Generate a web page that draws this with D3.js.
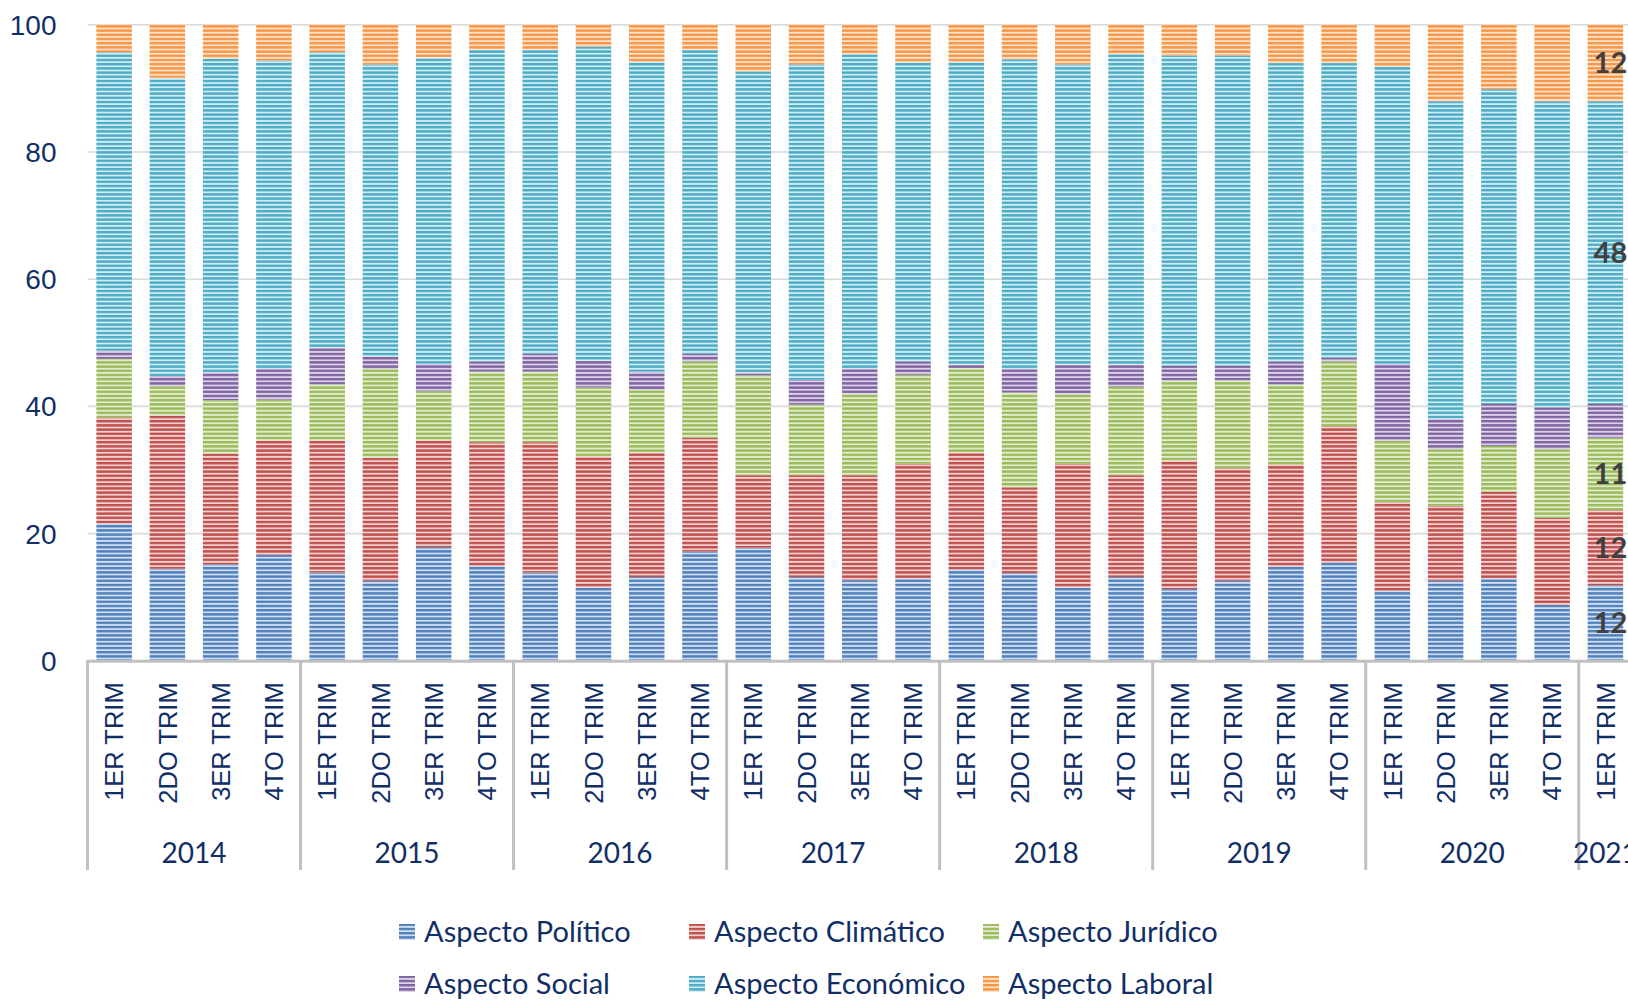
<!DOCTYPE html>
<html>
<head>
<meta charset="utf-8">
<script src="https://cdn.jsdelivr.net/npm/d3@7"></script>
<style>
  body { margin: 0; background: #fff; }
  svg { display: block; font-family: "Lato", "Open Sans", sans-serif; }
</style>
</head>
<body>
<svg id="chart" width="1628" height="1001"></svg>
<script>
// categories
const years = ["2014", "2015", "2016", "2017", "2018", "2019", "2020", "2021"];
const quarters = ["1ER TRIM", "2DO TRIM", "3ER TRIM", "4TO TRIM"];
const nPeriods = 29; // 2014 Q1 .. 2021 Q1

// series (percent of total)
const politico  = [21.5,14.4,15.1,16.6, 13.8,12.5,17.8,14.8, 13.8,11.4,13.1,17.1, 17.7,13.1,12.6,12.9, 14.3,13.7,11.4,13.1, 11.2,12.5,14.7,15.3, 10.9,12.5,12.9,8.7, 11.8];
const climatico = [16.7,24.1,17.4,18.0, 20.8,19.3,16.8,19.5, 20.5,20.7,19.6,17.9, 11.4,16.0,16.5,18.0, 18.4,13.5,19.5,16.0, 20.2,17.7,16.1,21.5, 14.0,11.8,13.6,13.7, 11.8];
const juridico  = [9.2,4.6,8.4,6.4, 8.8,14.0,7.7,11.1, 11.1,10.8,9.8,12.0, 15.7,11.1,12.8,14.0, 13.2,14.9,11.0,13.9, 12.6,13.8,12.6,10.2, 9.6,8.9,7.2,10.8, 11.4];
const social    = [1.3,1.6,4.4,4.8, 5.8,2.0,4.3,1.6, 2.8,4.2,2.9,1.2, 0.5,3.9,4.0,2.1, 0.6,3.7,4.6,3.5, 2.3,2.3,3.6,0.6, 12.1,4.8,6.6,6.6, 5.3];
const economico = [46.9,46.9,49.3,48.5, 46.4,45.9,48.2,49.0, 47.8,49.4,48.7,47.8, 47.3,49.6,49.4,47.0, 47.6,48.7,47.2,48.8, 48.8,48.8,46.9,46.3, 46.8,49.9,49.5,48.1, 47.6];
const laboral   = [4.4,8.4,5.4,5.7, 4.4,6.3,5.2,4.0, 4.0,3.5,5.9,4.0, 7.4,6.3,4.7,6.0, 5.9,5.5,6.3,4.7, 4.9,4.9,6.1,6.1, 6.6,12.1,10.2,12.1, 12.1];

const seriesNames = ["Aspecto Político", "Aspecto Climático", "Aspecto Jurídico", "Aspecto Social", "Aspecto Económico", "Aspecto Laboral"];
const seriesKeys = ["politico", "climatico", "juridico", "social", "economico", "laboral"];
const yTicks = [0, 20, 40, 60, 80, 100];
const labelledSeries = ["politico", "climatico", "juridico", "economico", "laboral"]; // labels on last bar

const colors = ["#4f81bd", "#c0504d", "#9bbb59", "#8064a2", "#4bacc6", "#f79646"];
const lights = ["#d3dff0", "#f2d2d1", "#e3ecd3", "#dcd3e8", "#d3ecf3", "#fde2cb"];

const svg = d3.select("#chart");
const width = +svg.attr("width");
const textColor = "#112f66";

// build table rows
const seriesArr = [politico, climatico, juridico, social, economico, laboral];
const rows = d3.range(nPeriods).map(i => {
  const r = { id: i, year: years[Math.floor(i / 4)], quarter: quarters[i % 4] };
  seriesKeys.forEach((k, j) => r[k] = seriesArr[j][i]);
  return r;
});

const left = 87.5, step = 53.26;
const x = d3.scaleBand()
  .domain(rows.map(d => d.id))
  .range([left, left + step * nPeriods])
  .paddingInner(0.333)
  .paddingOuter(0.1667);

const y = d3.scaleLinear().domain([0, 100]).range([660.3, 24.3]);

/* striped patterns */
const defs = svg.append("defs");
seriesKeys.forEach((k, i) => {
  const p = defs.append("pattern")
    .attr("id", "pat-" + k)
    .attr("patternUnits", "userSpaceOnUse")
    .attr("width", 10).attr("height", 4.2);
  p.append("rect").attr("width", 10).attr("height", 4.2).attr("fill", lights[i]);
  p.append("rect").attr("width", 10).attr("height", 2.4).attr("fill", colors[i]);
});

/* gridlines + y labels */
const yAxis = d3.axisLeft(y)
  .tickValues(yTicks)
  .tickSize(-(width - left))
  .tickPadding(31);

const yg = svg.append("g")
  .attr("transform", `translate(${left},0)`)
  .call(yAxis);
yg.select(".domain").remove();
yg.selectAll(".tick line").attr("stroke", "#d9d9d9").attr("stroke-width", 1.6);
yg.selectAll(".tick text")
  .attr("fill", textColor)
  .style("font-size", "28px")
  .attr("dy", "0.36em");

/* stacked bars */
const stack = d3.stack().keys(seriesKeys);
const stacked = stack(rows);

svg.append("g").selectAll("g")
  .data(stacked)
  .join("g")
    .attr("fill", d => `url(#pat-${d.key})`)
  .selectAll("rect")
  .data(d => d)
  .join("rect")
    .attr("x", d => x(d.data.id))
    .attr("width", x.bandwidth())
    .attr("y", d => y(d[1]))
    .attr("height", d => y(d[0]) - y(d[1]));

/* data labels on the last bar */
const last = rows[rows.length - 1];
svg.append("g").selectAll("text")
  .data(stacked.filter(s => labelledSeries.includes(s.key)))
  .join("text")
    .attr("x", x(last.id) + x.bandwidth() / 2 + 5)
    .attr("y", s => y((s[last.id][0] + s[last.id][1]) / 2))
    .attr("dy", "0.36em")
    .attr("text-anchor", "middle")
    .attr("fill", "#404040")
    .style("font-size", "29px")
    .style("font-weight", "bold")
    .text(s => d3.format(".0f")(last[s.key]));

/* x axis: line, quarter labels, year groups */
const axisY = y(0);
svg.append("line")
  .attr("x1", left).attr("x2", width)
  .attr("y1", axisY + 1).attr("y2", axisY + 1)
  .attr("stroke", "#c0c0c0").attr("stroke-width", 3);

const xAxis = d3.axisBottom(x)
  .tickSize(0)
  .tickFormat(i => rows[i].quarter);

const xg = svg.append("g")
  .attr("transform", `translate(0,${axisY})`)
  .call(xAxis);
xg.select(".domain").remove();
xg.selectAll(".tick text")
  .attr("transform", "rotate(-90)")
  .attr("x", -22)
  .attr("y", 0)
  .attr("dy", "0.36em")
  .attr("text-anchor", "end")
  .attr("fill", textColor)
  .style("font-size", "25.5px");

// year separators
const groupStarts = d3.range(0, nPeriods, 4);
svg.append("g").selectAll("line")
  .data(groupStarts)
  .join("line")
    .attr("x1", i => left + i * x.step())
    .attr("x2", i => left + i * x.step())
    .attr("y1", axisY)
    .attr("y2", 870)
    .attr("stroke", "#c0c0c0")
    .attr("stroke-width", 3);

// year labels
svg.append("g").selectAll("text")
  .data(groupStarts)
  .join("text")
    .attr("x", i => left + (i + Math.min(4, nPeriods - i) / 2) * x.step())
    .attr("y", 863)
    .attr("text-anchor", "middle")
    .attr("fill", textColor)
    .style("font-size", "28px")
    .text(i => years[i / 4]);

/* legend */
const legendCols = [399, 689, 983];
const legendRows = [932, 984];
const leg = svg.append("g").selectAll("g")
  .data(seriesKeys)
  .join("g")
    .attr("transform", (k, i) => `translate(${legendCols[i % 3]},${legendRows[Math.floor(i / 3)]})`);
leg.append("rect")
  .attr("x", 0).attr("y", -8)
  .attr("width", 16).attr("height", 16)
  .attr("fill", k => `url(#pat-${k})`);
leg.append("text")
  .attr("x", 25)
  .attr("y", 0)
  .attr("dy", "0.36em")
  .attr("fill", textColor)
  .style("font-size", "29px")
  .text((k, i) => seriesNames[i]);
</script>
</body>
</html>
